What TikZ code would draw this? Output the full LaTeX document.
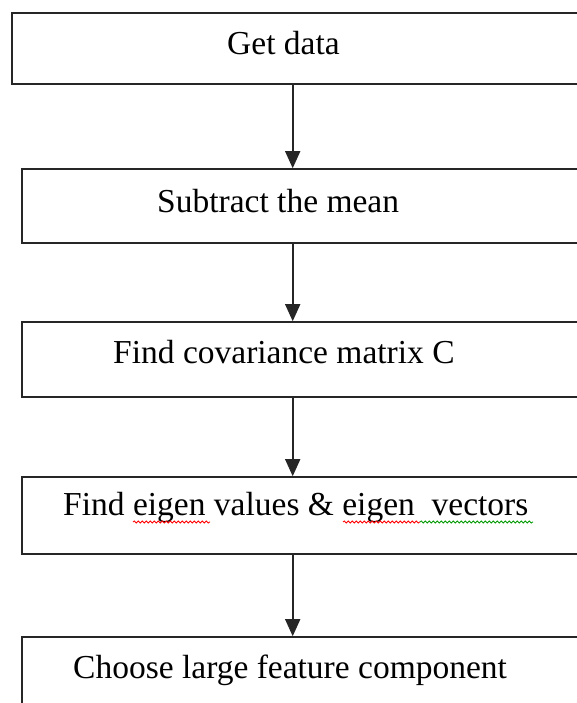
\documentclass[tikz,border=0pt]{standalone}
\usepackage{fontspec}
\setmainfont{Liberation Serif}
\usetikzlibrary{arrows.meta,decorations.pathmorphing}
\begin{document}
\begin{tikzpicture}[x=1pt,y=-1pt,
  box/.style={draw=black!85, line width=1.6pt, rectangle, inner sep=0pt},
  lbl/.style={anchor=base west, inner sep=0pt, font=\fontsize{33.5}{40}\selectfont},
  arr/.style={draw=black!85, line width=1.6pt, -{Triangle[width=15pt,length=17pt]}},
  squig/.style={line width=0.8pt, decorate, decoration={snake, segment length=4pt, amplitude=1.1pt}}]
\useasboundingbox (0,0) rectangle (577,703);
\clip (0,0) rectangle (577,703);
\node[box, minimum width=608pt, minimum height=71pt] (b1) at (316,48.5) {};
\node[box, minimum width=598pt, minimum height=74pt] (b2) at (321,206) {};
\node[box, minimum width=598pt, minimum height=75pt] (b3) at (321,359.5) {};
\node[box, minimum width=598pt, minimum height=77pt] (b4) at (321,515.5) {};
\node[box, minimum width=598pt, minimum height=78pt] (b5) at (321,676) {};
\node[lbl] (t1) at (227,55) {Get data};
\node[lbl] (t2) at (157,212) {Subtract the mean};
\node[lbl] (t3) at (113,363) {Find covariance matrix C};
\node[lbl] (t4) at (63,515) {Find eigen values \& eigen\ \ vectors};
\node[lbl] (t5) at (73,678) {Choose large feature component};
\coordinate (ax) at (292.7,0);
\draw[arr] (b1.south -| ax) -- (b2.north -| ax);
\draw[arr] (b2.south -| ax) -- (b3.north -| ax);
\draw[arr] (b3.south -| ax) -- (b4.north -| ax);
\draw[arr] (b4.south -| ax) -- (b5.north -| ax);
\draw[squig, red] (133,522) -- (210,522);
\draw[squig, red] (343,522) -- (420,522);
\draw[squig, green!60!black] (420,522) -- (533,522);
\end{tikzpicture}
\end{document}
